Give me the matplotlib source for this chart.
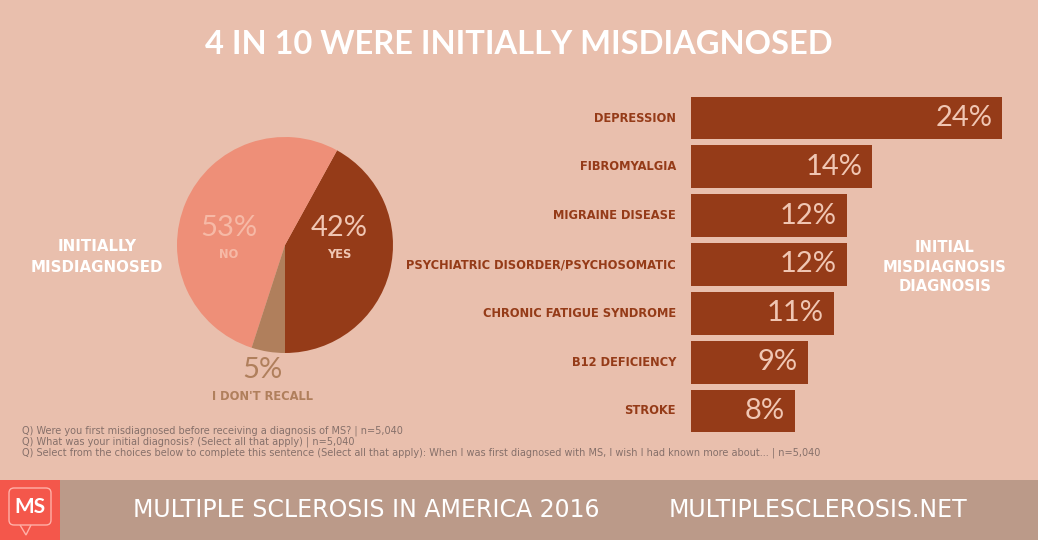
import matplotlib.pyplot as plt
from matplotlib.patches import Rectangle, FancyBboxPatch, Polygon

# data
pie_labels = ['YES', 'NO', "I DON'T RECALL"]
pie_values = [42, 53, 5]
pie_colors = ['#953b18', '#ee8f78', '#b07f5c']

diagnoses = ['DEPRESSION', 'FIBROMYALGIA', 'MIGRAINE DISEASE',
             'PSYCHIATRIC DISORDER/PSYCHOSOMATIC', 'CHRONIC FATIGUE SYNDROME',
             'B12 DEFICIENCY', 'STROKE']
diag_values = [24, 14, 12, 12, 11, 9, 8]

footnotes = [
    'Q) Were you first misdiagnosed before receiving a diagnosis of MS? | n=5,040',
    'Q) What was your initial diagnosis? (Select all that apply) | n=5,040',
    'Q) Select from the choices below to complete this sentence (Select all that apply): '
    'When I was first diagnosed with MS, I wish I had known more about... | n=5,040',
]

BG = '#e9bfad'
RUST = '#953b18'
LIGHT = '#f0c6b3'
W, H = 1038, 540
WIDE = ['DejaVu Sans']

plt.rcParams['font.family'] = ['Lato', 'DejaVu Sans']

fig = plt.figure(figsize=(W / 100, H / 100), dpi=100)
fig.patch.set_facecolor(BG)


def box(x0, y0, x1, y1):
    # pixel box (top-left origin) -> figure fraction rect
    return [x0 / W, 1 - y1 / H, (x1 - x0) / W, (y1 - y0) / H]


def txt(x, y, s, **kw):
    fig.text(x / W, 1 - y / H, s, **kw)


# title
txt(519, 45, '4 IN 10 WERE INITIALLY MISDIAGNOSED', color='white', fontsize=23.5,
    fontweight='bold', ha='center', va='center')

# pie
ax_pie = fig.add_axes(box(177, 137, 393, 353))
ax_pie.pie(pie_values, colors=pie_colors, startangle=-90, counterclock=True,
           radius=1, wedgeprops=dict(linewidth=0))
ax_pie.set_xlim(-1, 1)
ax_pie.set_ylim(-1, 1)
ax_pie.set_aspect('equal')
ax_pie.axis('off')

txt(229, 228, '53%', color='#f6b9a6', fontsize=21, ha='center', va='center')
txt(229, 254, 'NO', color='#f6b9a6', fontsize=8.3, fontweight='bold', family=WIDE,
    ha='center', va='center')
txt(339, 228, '42%', color=LIGHT, fontsize=21, ha='center', va='center')
txt(339, 254, 'YES', color=LIGHT, fontsize=8.3, fontweight='bold', family=WIDE,
    ha='center', va='center')
txt(262, 370, '5%', color='#b07f5c', fontsize=21, ha='center', va='center')
txt(262, 396, "I DON'T RECALL", color='#b07f5c', fontsize=8.3, fontweight='bold',
    family=WIDE, ha='center', va='center')

txt(97, 257, 'INITIALLY\nMISDIAGNOSED', color='white', fontsize=10.8, fontweight='bold',
    family=WIDE, ha='center', va='center', linespacing=1.5)

# bars
ax_bar = fig.add_axes(box(691, 93.6, 1002, 435.4))
ax_bar.set_facecolor('none')
ypos = list(range(len(diagnoses)))
ax_bar.barh(ypos, diag_values, height=0.88, color=RUST)
ax_bar.set_xlim(0, max(diag_values))
ax_bar.set_ylim(len(diagnoses) - 0.5, -0.5)
ax_bar.axis('off')
for y, v, name in zip(ypos, diag_values, diagnoses):
    ax_bar.text(v - 0.75, y, f'{v}%', color=LIGHT, fontsize=21,
                ha='right', va='center')
    ax_bar.text(-1.15, y, name, color=RUST, fontsize=8.3, fontweight='bold',
                family=WIDE, ha='right', va='center')

txt(945, 267, 'INITIAL\nMISDIAGNOSIS\nDIAGNOSIS', color='white', fontsize=10.6,
    fontweight='bold', family=WIDE, ha='center', va='center', linespacing=1.4)

# footnotes
for i, line in enumerate(footnotes):
    txt(22, 431 + i * 10.7, line, color='#86706a', fontsize=7.0,
        family=['Liberation Sans Narrow', 'DejaVu Sans'], va='center')

# footer band
ax_bg = fig.add_axes([0, 0, 1, 1], zorder=-1)
ax_bg.set_xlim(0, W)
ax_bg.set_ylim(H, 0)
ax_bg.axis('off')
ax_bg.add_patch(Rectangle((0, 480), W, 60, color='#bb9a89', lw=0))
ax_bg.add_patch(Rectangle((0, 480), 60, 60, color='#f4574b', lw=0))
ax_bg.add_patch(FancyBboxPatch((9, 488), 42, 37, boxstyle='round,pad=0,rounding_size=5',
                               fill=False, ec='#ffb1a8', lw=1))
ax_bg.add_patch(Polygon([[20, 525], [26, 535], [31, 525]], closed=False,
                        fill=False, ec='#ffb1a8', lw=1))
ax_bg.text(30, 507, 'MS', color='white', fontsize=15, fontweight='bold',
           ha='center', va='center')

txt(366, 510, 'MULTIPLE SCLEROSIS IN AMERICA 2016', color='white', fontsize=17,
    family=WIDE, ha='center', va='center')
txt(818, 510, 'MULTIPLESCLEROSIS.NET', color='white', fontsize=17,
    family=WIDE, ha='center', va='center')

fig.savefig('out.png', dpi=100, facecolor=BG)
